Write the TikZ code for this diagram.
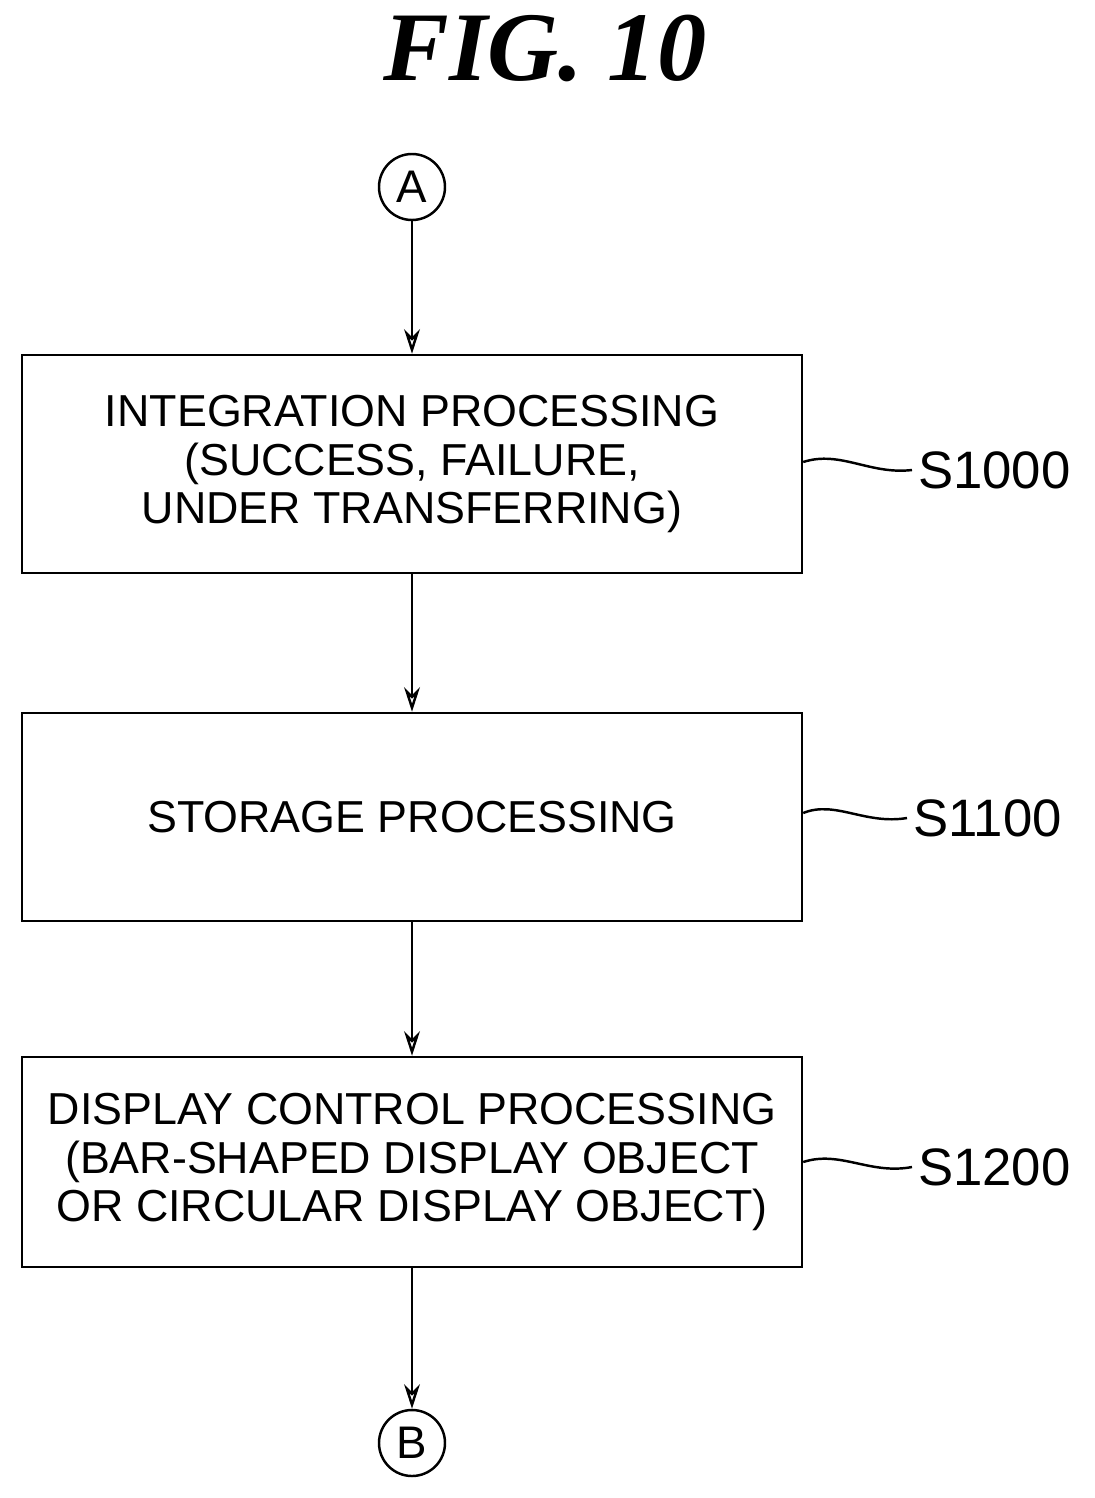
\documentclass[tikz,border=0pt]{standalone}
\usepackage{fontspec}
\setmainfont{Liberation Sans}
\newfontfamily\titlefont{Liberation Serif}
\usetikzlibrary{arrows.meta}
\begin{document}
\begin{tikzpicture}[x=0.02cm,y=-0.02cm,
  box/.style={draw,line width=1.4pt,minimum width=780*0.02cm,align=center,font=\fontsize{25.5}{27.5}\selectfont},
  conn/.style={draw,circle,line width=1.4pt,minimum size=66*0.02cm,inner sep=0pt,font=\fontsize{26}{30}\selectfont},
  arr/.style={-{Stealth[length=14pt,width=9pt,open]},line width=1.4pt},
  lbl/.style={font=\fontsize{30}{34}\selectfont,anchor=west},
  sq/.style={line width=1.4pt}]
\useasboundingbox (0,0) rectangle (1095,1498);
\node[font=\titlefont\bfseries\itshape\fontsize{56}{64}\selectfont] (t) at (545,48) {FIG. 10};
\node[conn] (A) at (412,187) {A};
\node[box,minimum height=218*0.02cm] (b1) at (412,464) {INTEGRATION PROCESSING\\(SUCCESS, FAILURE,\\UNDER TRANSFERRING)};
\node[box,minimum height=208*0.02cm] (b2) at (412,817) {STORAGE PROCESSING};
\node[box,minimum height=210*0.02cm] (b3) at (412,1162) {DISPLAY CONTROL PROCESSING\\(BAR-SHAPED DISPLAY OBJECT\\OR CIRCULAR DISPLAY OBJECT)};
\node[conn] (B) at (412,1443) {B};
\draw[arr] (A) -- (b1);
\draw[arr] (b1) -- (b2);
\draw[arr] (b2) -- (b3);
\draw[arr] (b3) -- (B);
\node[lbl] (l1) at (912,470) {S1000};
\node[lbl] (l2) at (907,818) {S1100};
\node[lbl] (l3) at (912,1167) {S1200};
\draw[sq] (b1.east|-0,462) .. controls (840,450) and (870,475) .. (l1.west);
\draw[sq] (b2.east|-0,813) .. controls (835,800) and (865,825) .. (l2.west);
\draw[sq] (b3.east|-0,1162) .. controls (840,1150) and (870,1175) .. (l3.west);
\end{tikzpicture}
\end{document}
